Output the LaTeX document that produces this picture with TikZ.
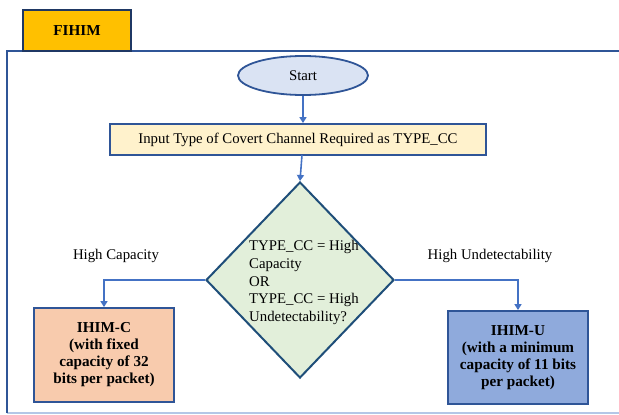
\documentclass[tikz,border=0pt]{standalone}
\usepackage{fontspec}
\setmainfont{Liberation Serif}
\usetikzlibrary{shapes.geometric,arrows.meta}
\definecolor{navy}{HTML}{1F3864}
\definecolor{frameblue}{HTML}{2F5597}
\definecolor{arrblue}{HTML}{4472C4}
\definecolor{tabfill}{HTML}{FFC000}
\definecolor{startfill}{HTML}{DAE3F3}
\definecolor{inputfill}{HTML}{FFF2CC}
\definecolor{decfill}{HTML}{E2EFDA}
\definecolor{decline}{HTML}{1F4E79}
\definecolor{cfill}{HTML}{F8CBAD}
\definecolor{ufill}{HTML}{8FAADC}
\definecolor{lightframe}{HTML}{B4C7E7}
\tikzset{
  txt/.style={font=\fontsize{14.8}{17.6}\selectfont, text=black},
  btxt/.style={font=\fontsize{15.2}{17}\selectfont\bfseries, text=black},
  arr/.style={draw=arrblue, line width=1.6pt, -{Triangle[length=6pt,width=7pt]}},
  boxstyle/.style={draw=frameblue, line width=1.8pt, inner sep=0pt}
}
\begin{document}
\begin{tikzpicture}[x=1pt,y=-1pt]
\useasboundingbox (0,0) rectangle (619,415);
% frame
\draw[lightframe, line width=1.5pt] (7,413) -- (625,413);
\draw[frameblue, line width=2pt] (7,413) -- (7,51) -- (625,51);
% tab
\node[draw=navy, fill=tabfill, line width=2pt, minimum width=108pt, minimum height=41pt, inner sep=0pt, btxt] (tab) at (77,30.5) {FIHIM};
% start
\node[ellipse, draw=frameblue, fill=startfill, line width=1.8pt, minimum width=130pt, minimum height=39pt, inner sep=0pt, txt] (start) at (303,75.5) {Start};
% input
\node[boxstyle, fill=inputfill, minimum width=376pt, minimum height=31pt, txt] (input) at (298,139.5) {Input Type of Covert Channel Required as TYPE\_CC};
% decision
\node[diamond, draw=decline, fill=decfill, line width=2pt, minimum width=188pt, minimum height=196pt, inner sep=0pt] (dec) at (300,280) {};
\node[txt, align=left, anchor=west, inner sep=0pt] (dectext) at (249,282.5) {TYPE\_CC = High\\Capacity\\OR\\TYPE\_CC = High\\Undetectability?};
% outcome boxes
\node[boxstyle, fill=cfill, minimum width=140pt, minimum height=94pt, btxt, align=center] (ihimc) at (104,355) {IHIM-C\\(with fixed\\capacity of 32\\bits per packet)};
\node[boxstyle, fill=ufill, minimum width=140pt, minimum height=93pt, btxt, align=center] (ihimu) at (518,357.5) {IHIM-U\\(with a minimum\\capacity of 11 bits\\per packet)};
% labels
\node[txt, inner sep=0pt] (lc) at (116,256) {High Capacity};
\node[txt, inner sep=0pt] (lu) at (490,256) {High Undetectability};
% connectors
\draw[arr] (start.south) -- (start.south |- input.north);
\draw[arr] (302,155) coordinate (inb) -- (dec.north);
\draw[arr] (dec.west) -| (ihimc.north);
\draw[arr] (dec.east) -| (ihimu.north);
\end{tikzpicture}
\end{document}
